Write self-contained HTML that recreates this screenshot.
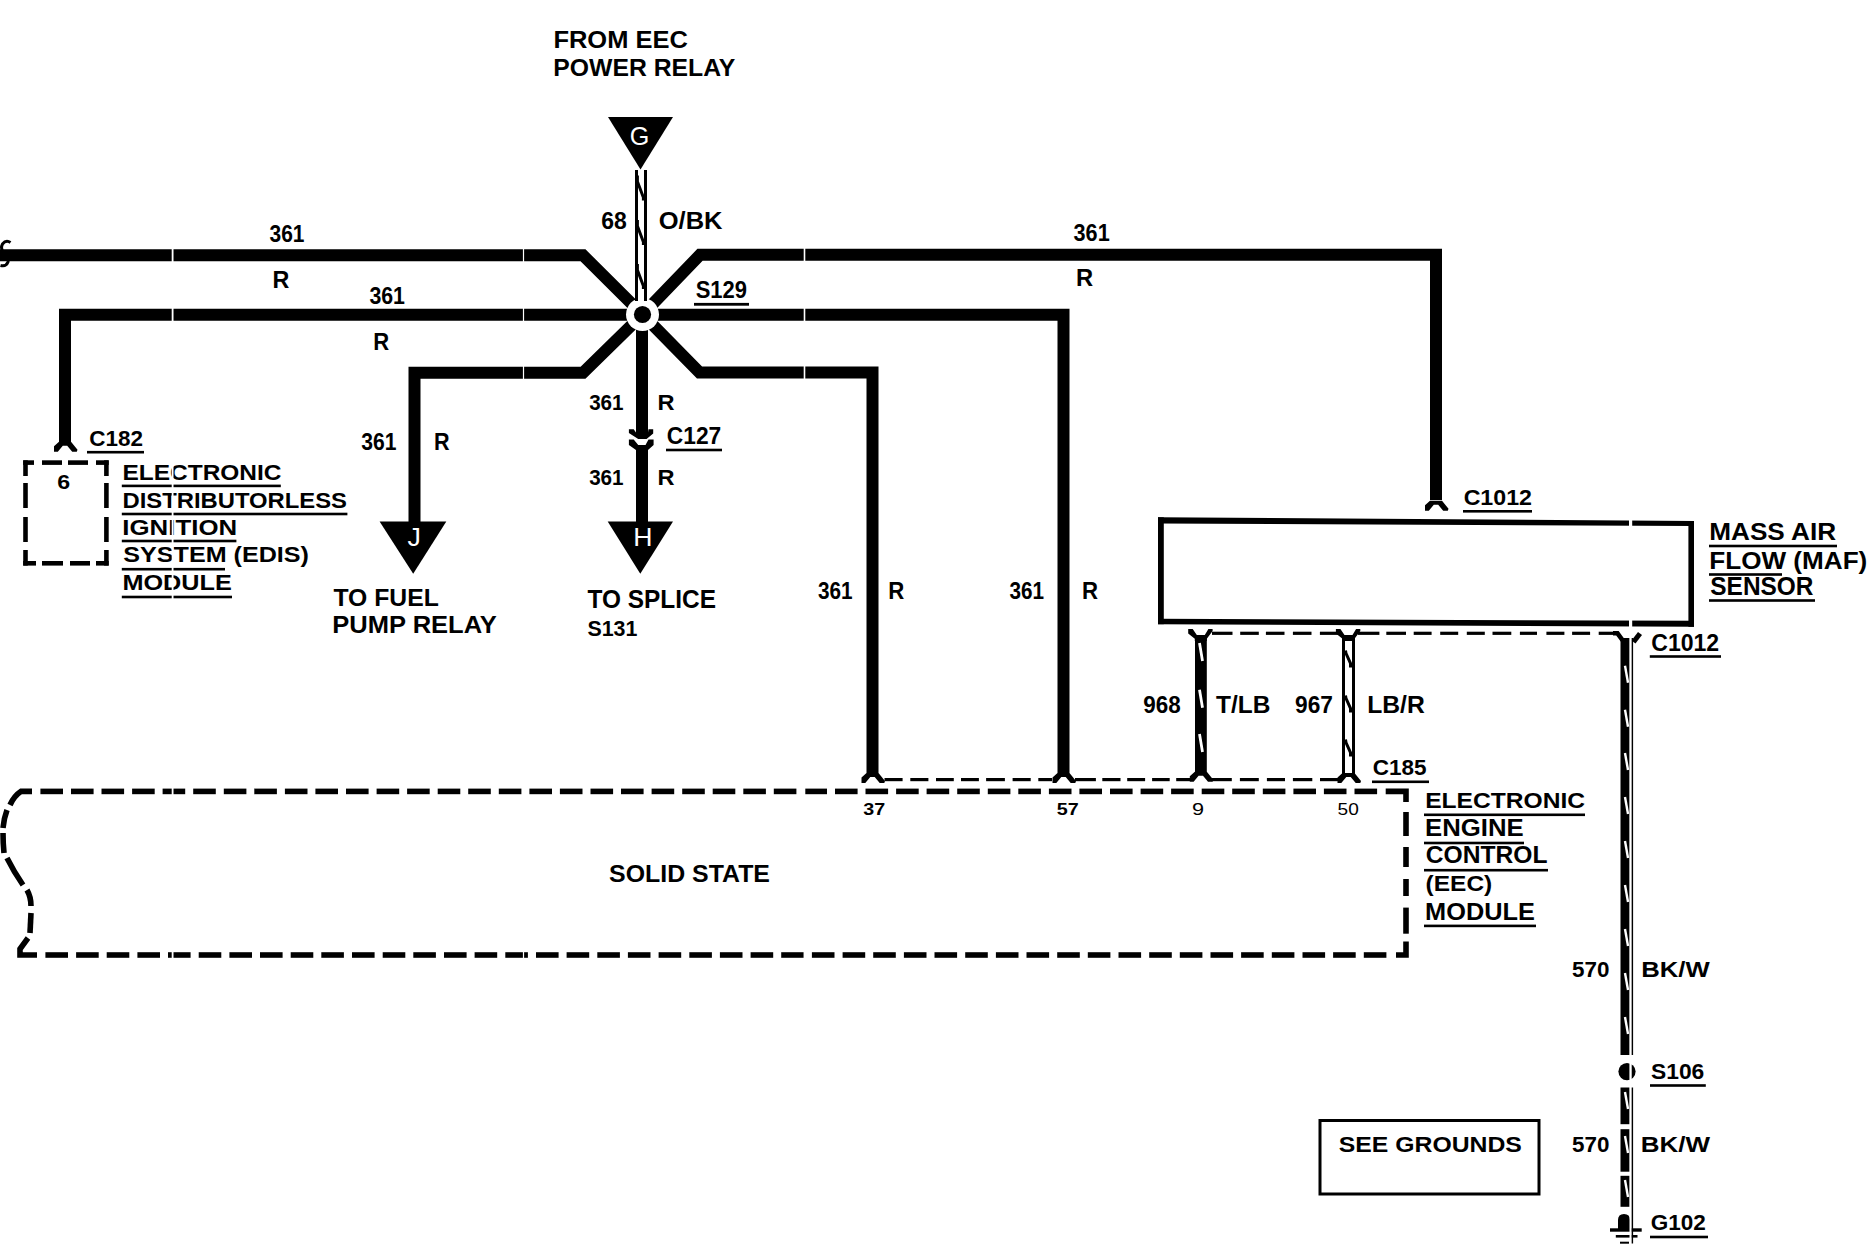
<!DOCTYPE html>
<html><head><meta charset="utf-8"><style>
html,body{margin:0;padding:0;background:#fff;}
svg{display:block;}
text{font-family:"Liberation Sans",sans-serif;}
</style></head><body>
<svg width="1868" height="1248" viewBox="0 0 1868 1248">
<rect width="1868" height="1248" fill="#fff"/>
<path d="M0,255.3 L583,255.3 L642.5,314.5" fill="none" stroke="#000" stroke-width="12" stroke-linejoin="miter" />
<path d="M642.5,314.5 L700,254.8 L1436,254.8 L1436,500" fill="none" stroke="#000" stroke-width="12" stroke-linejoin="miter" />
<path d="M65,443 L65,314.8 L642.5,314.8" fill="none" stroke="#000" stroke-width="12" stroke-linejoin="miter" />
<path d="M642.5,314.8 L1063.5,314.8 L1063.5,773" fill="none" stroke="#000" stroke-width="12" stroke-linejoin="miter" />
<path d="M642.5,314.5 L583,372.7 L414.5,372.7 L414.5,524" fill="none" stroke="#000" stroke-width="12" stroke-linejoin="miter" />
<path d="M642.5,314.5 L699.5,372.5 L872.5,372.5 L872.5,773" fill="none" stroke="#000" stroke-width="12" stroke-linejoin="miter" />
<path d="M642,314.5 L642,432" fill="none" stroke="#000" stroke-width="12" stroke-linejoin="miter" />
<path d="M642,455 L642,524" fill="none" stroke="#000" stroke-width="12" stroke-linejoin="miter" />
<circle cx="642.5" cy="314.5" r="16.5" fill="#fff"/>
<circle cx="642.5" cy="314.5" r="8.6" fill="#000"/>
<rect x="635.0" y="170.0" width="3.0" height="131.0" fill="#000"/>
<rect x="644.0" y="170.0" width="3.0" height="131.0" fill="#000"/>
<path d="M637.4,175.5 L637.4,181.5 L643.4,197.5 L643.4,200.5" fill="none" stroke="#000" stroke-width="3" stroke-linejoin="miter" />
<path d="M637.4,220 L637.4,226 L643.4,242 L643.4,245" fill="none" stroke="#000" stroke-width="3" stroke-linejoin="miter" />
<path d="M637.4,264 L637.4,270 L643.4,286 L643.4,289" fill="none" stroke="#000" stroke-width="3" stroke-linejoin="miter" />
<polygon points="608.0,117.0 673.0,117.0 640.5,169.5" fill="#000"/>
<polygon points="379.6,521.4 446.3,521.4 413.2,573.8" fill="#000"/>
<polygon points="607.7,521.4 673.0,521.4 640.3,573.8" fill="#000"/>
<text x="629.74" y="144.60" font-size="26.60" font-weight="normal" fill="#fff" textLength="19.54" lengthAdjust="spacingAndGlyphs">G</text>
<text x="407.58" y="546.00" font-size="26.45" font-weight="normal" fill="#fff" textLength="13.41" lengthAdjust="spacingAndGlyphs">J</text>
<text x="633.31" y="545.50" font-size="25.58" font-weight="normal" fill="#fff" textLength="19.26" lengthAdjust="spacingAndGlyphs">H</text>
<polygon points="59.0,441.8 54.0,446.3 54.0,451.8 57.8,451.8 62.8,445.8 67.2,445.8 72.2,451.8 76.8,451.8 77.5,449.8 71.0,441.8" fill="#000"/>
<polygon points="1430.0,500.8 1425.0,505.3 1425.0,510.8 1428.8,510.8 1433.8,504.8 1438.2,504.8 1443.2,510.8 1447.8,510.8 1448.5,508.8 1442.0,500.8" fill="#000"/>
<polygon points="866.5,773.0 861.5,777.5 861.5,783.0 865.3,783.0 870.3,777.0 874.7,777.0 879.7,783.0 884.3,783.0 885.0,781.0 878.5,773.0" fill="#000"/>
<polygon points="1057.5,773.0 1052.5,777.5 1052.5,783.0 1056.3,783.0 1061.3,777.0 1065.7,777.0 1070.7,783.0 1075.3,783.0 1076.0,781.0 1069.5,773.0" fill="#000"/>
<polygon points="636.0,420.0 636.0,432.5 633.7,429.3 628.9,429.3 628.9,433.0 638.2,439.0 646.6,439.0 653.2,433.5 653.2,429.3 648.5,429.3 648.0,432.5 648.0,420.0" fill="#000"/>
<polygon points="628.9,439.6 633.7,439.6 638.2,445.0 645.5,445.0 648.5,439.6 653.6,439.6 653.6,445.0 648.0,450.0 648.0,460.0 636.0,460.0 636.0,450.0 628.9,445.0" fill="#000"/>
<text x="553.40" y="48.00" font-size="23.84" font-weight="bold" fill="#000" stroke="#000" stroke-width="0.0" textLength="134.50" lengthAdjust="spacingAndGlyphs">FROM EEC</text>
<text x="553.37" y="75.80" font-size="24.71" font-weight="bold" fill="#000" stroke="#000" stroke-width="0.0" textLength="181.93" lengthAdjust="spacingAndGlyphs">POWER RELAY</text>
<text x="601.16" y="228.50" font-size="23.84" font-weight="bold" fill="#000" stroke="#000" stroke-width="0.0" textLength="25.55" lengthAdjust="spacingAndGlyphs">68</text>
<text x="658.75" y="228.70" font-size="24.56" font-weight="bold" fill="#000" stroke="#000" stroke-width="0.0" textLength="63.78" lengthAdjust="spacingAndGlyphs">O/BK</text>
<text x="269.52" y="242.00" font-size="23.98" font-weight="bold" fill="#000" stroke="#000" stroke-width="0.0" textLength="34.96" lengthAdjust="spacingAndGlyphs">361</text>
<text x="272.44" y="288.00" font-size="23.69" font-weight="bold" fill="#000" stroke="#000" stroke-width="0.0" textLength="16.84" lengthAdjust="spacingAndGlyphs">R</text>
<text x="369.41" y="303.90" font-size="24.13" font-weight="bold" fill="#000" stroke="#000" stroke-width="0.0" textLength="35.58" lengthAdjust="spacingAndGlyphs">361</text>
<text x="373.32" y="349.80" font-size="23.55" font-weight="bold" fill="#000" stroke="#000" stroke-width="0.0" textLength="15.93" lengthAdjust="spacingAndGlyphs">R</text>
<text x="695.67" y="298.10" font-size="23.98" font-weight="bold" fill="#000" stroke="#000" stroke-width="0.0" textLength="51.35" lengthAdjust="spacingAndGlyphs">S129</text>
<rect x="694.0" y="302.9" width="55.0" height="2.8"/>
<text x="1073.60" y="240.80" font-size="23.69" font-weight="bold" fill="#000" stroke="#000" stroke-width="0.0" textLength="36.10" lengthAdjust="spacingAndGlyphs">361</text>
<text x="1076.11" y="285.90" font-size="23.40" font-weight="bold" fill="#000" stroke="#000" stroke-width="0.0" textLength="17.18" lengthAdjust="spacingAndGlyphs">R</text>
<text x="361.22" y="449.90" font-size="23.84" font-weight="bold" fill="#000" stroke="#000" stroke-width="0.0" textLength="35.17" lengthAdjust="spacingAndGlyphs">361</text>
<text x="434.06" y="449.90" font-size="23.84" font-weight="bold" fill="#000" stroke="#000" stroke-width="0.0" textLength="15.59" lengthAdjust="spacingAndGlyphs">R</text>
<text x="589.13" y="409.60" font-size="22.24" font-weight="bold" fill="#000" stroke="#000" stroke-width="0.0" textLength="34.45" lengthAdjust="spacingAndGlyphs">361</text>
<text x="657.42" y="409.60" font-size="22.24" font-weight="bold" fill="#000" stroke="#000" stroke-width="0.0" textLength="17.07" lengthAdjust="spacingAndGlyphs">R</text>
<text x="589.13" y="485.40" font-size="22.24" font-weight="bold" fill="#000" stroke="#000" stroke-width="0.0" textLength="34.45" lengthAdjust="spacingAndGlyphs">361</text>
<text x="657.42" y="485.40" font-size="22.24" font-weight="bold" fill="#000" stroke="#000" stroke-width="0.0" textLength="17.07" lengthAdjust="spacingAndGlyphs">R</text>
<text x="666.87" y="444.10" font-size="24.27" font-weight="bold" fill="#000" stroke="#000" stroke-width="0.0" textLength="54.43" lengthAdjust="spacingAndGlyphs">C127</text>
<rect x="666.0" y="448.7" width="56.0" height="2.6"/>
<text x="333.42" y="606.00" font-size="23.26" font-weight="bold" fill="#000" stroke="#000" stroke-width="0.0" textLength="105.33" lengthAdjust="spacingAndGlyphs">TO FUEL</text>
<text x="332.32" y="633.20" font-size="23.11" font-weight="bold" fill="#000" stroke="#000" stroke-width="0.0" textLength="164.48" lengthAdjust="spacingAndGlyphs">PUMP RELAY</text>
<text x="587.53" y="608.40" font-size="24.85" font-weight="bold" fill="#000" stroke="#000" stroke-width="0.0" textLength="128.42" lengthAdjust="spacingAndGlyphs">TO SPLICE</text>
<text x="587.38" y="635.70" font-size="22.97" font-weight="bold" fill="#000" stroke="#000" stroke-width="0.0" textLength="50.01" lengthAdjust="spacingAndGlyphs">S131</text>
<text x="89.18" y="445.60" font-size="22.82" font-weight="bold" fill="#000" stroke="#000" stroke-width="0.0" textLength="53.72" lengthAdjust="spacingAndGlyphs">C182</text>
<rect x="87.0" y="450.9" width="57.0" height="2.6"/>
<text x="57.15" y="488.60" font-size="20.78" font-weight="bold" fill="#000" stroke="#000" stroke-width="0.0" textLength="12.89" lengthAdjust="spacingAndGlyphs">6</text>
<text x="122.46" y="479.60" font-size="21.95" font-weight="bold" fill="#000" stroke="#000" stroke-width="0.0" textLength="159.01" lengthAdjust="spacingAndGlyphs">ELECTRONIC</text>
<rect x="121.8" y="484.6" width="159.0" height="2.6"/>
<text x="122.51" y="507.80" font-size="22.82" font-weight="bold" fill="#000" stroke="#000" stroke-width="0.0" textLength="224.42" lengthAdjust="spacingAndGlyphs">DISTRIBUTORLESS</text>
<rect x="121.8" y="512.7" width="225.6" height="2.6"/>
<text x="122.37" y="534.70" font-size="22.82" font-weight="bold" fill="#000" stroke="#000" stroke-width="0.0" textLength="114.77" lengthAdjust="spacingAndGlyphs">IGNITION</text>
<rect x="121.8" y="539.7" width="114.6" height="2.6"/>
<text x="123.38" y="561.70" font-size="21.95" font-weight="bold" fill="#000" stroke="#000" stroke-width="0.0" textLength="185.57" lengthAdjust="spacingAndGlyphs">SYSTEM (EDIS)</text>
<rect x="121.8" y="567.9" width="103.2" height="2.6"/>
<text x="122.41" y="589.70" font-size="22.38" font-weight="bold" fill="#000" stroke="#000" stroke-width="0.0" textLength="109.37" lengthAdjust="spacingAndGlyphs">MODULE</text>
<rect x="121.8" y="595.7" width="110.2" height="2.6"/>
<text x="817.92" y="599.40" font-size="23.84" font-weight="bold" fill="#000" stroke="#000" stroke-width="0.0" textLength="34.65" lengthAdjust="spacingAndGlyphs">361</text>
<text x="888.31" y="599.40" font-size="23.84" font-weight="bold" fill="#000" stroke="#000" stroke-width="0.0" textLength="16.04" lengthAdjust="spacingAndGlyphs">R</text>
<text x="1009.42" y="599.40" font-size="23.84" font-weight="bold" fill="#000" stroke="#000" stroke-width="0.0" textLength="34.55" lengthAdjust="spacingAndGlyphs">361</text>
<text x="1081.91" y="599.40" font-size="23.84" font-weight="bold" fill="#000" stroke="#000" stroke-width="0.0" textLength="16.04" lengthAdjust="spacingAndGlyphs">R</text>
<text x="863.35" y="815.30" font-size="16.86" font-weight="bold" fill="#000" stroke="#000" stroke-width="0.0" textLength="21.92" lengthAdjust="spacingAndGlyphs">37</text>
<text x="1056.89" y="815.30" font-size="16.86" font-weight="bold" fill="#000" stroke="#000" stroke-width="0.0" textLength="21.98" lengthAdjust="spacingAndGlyphs">57</text>
<text x="1191.99" y="815.30" font-size="16.28" font-weight="normal" fill="#000" textLength="12.04" lengthAdjust="spacingAndGlyphs">9</text>
<text x="1337.54" y="815.30" font-size="16.28" font-weight="normal" fill="#000" textLength="21.21" lengthAdjust="spacingAndGlyphs">50</text>
<text x="1463.65" y="504.80" font-size="22.24" font-weight="bold" fill="#000" stroke="#000" stroke-width="0.0" textLength="68.28" lengthAdjust="spacingAndGlyphs">C1012</text>
<rect x="1463.0" y="510.0" width="69.0" height="2.6"/>
<text x="1709.26" y="540.40" font-size="23.98" font-weight="bold" fill="#000" stroke="#000" stroke-width="0.0" textLength="126.87" lengthAdjust="spacingAndGlyphs">MASS AIR</text>
<rect x="1709.0" y="544.7" width="128.0" height="2.6"/>
<text x="1709.25" y="568.90" font-size="24.13" font-weight="bold" fill="#000" stroke="#000" stroke-width="0.0" textLength="158.05" lengthAdjust="spacingAndGlyphs">FLOW (MAF)</text>
<rect x="1709.0" y="573.2" width="73.0" height="2.6"/>
<text x="1710.30" y="595.00" font-size="25.15" font-weight="bold" fill="#000" stroke="#000" stroke-width="0.0" textLength="103.21" lengthAdjust="spacingAndGlyphs">SENSOR</text>
<rect x="1709.0" y="599.2" width="106.0" height="2.6"/>
<text x="1143.22" y="713.00" font-size="23.55" font-weight="bold" fill="#000" stroke="#000" stroke-width="0.0" textLength="37.47" lengthAdjust="spacingAndGlyphs">968</text>
<text x="1216.03" y="713.00" font-size="23.55" font-weight="bold" fill="#000" stroke="#000" stroke-width="0.0" textLength="54.39" lengthAdjust="spacingAndGlyphs">T/LB</text>
<text x="1295.01" y="713.00" font-size="23.55" font-weight="bold" fill="#000" stroke="#000" stroke-width="0.0" textLength="37.89" lengthAdjust="spacingAndGlyphs">967</text>
<text x="1367.15" y="713.00" font-size="23.55" font-weight="bold" fill="#000" stroke="#000" stroke-width="0.0" textLength="57.56" lengthAdjust="spacingAndGlyphs">LB/R</text>
<text x="1372.78" y="774.90" font-size="21.80" font-weight="bold" fill="#000" stroke="#000" stroke-width="0.0" textLength="53.75" lengthAdjust="spacingAndGlyphs">C185</text>
<rect x="1372.0" y="780.5" width="57.0" height="2.6"/>
<text x="1651.26" y="650.50" font-size="24.13" font-weight="bold" fill="#000" stroke="#000" stroke-width="0.0" textLength="67.87" lengthAdjust="spacingAndGlyphs">C1012</text>
<rect x="1649.8" y="655.2" width="71.2" height="2.6"/>
<text x="609.10" y="881.90" font-size="24.13" font-weight="bold" fill="#000" stroke="#000" stroke-width="0.0" textLength="160.85" lengthAdjust="spacingAndGlyphs">SOLID STATE</text>
<text x="1425.15" y="808.00" font-size="21.22" font-weight="bold" fill="#000" stroke="#000" stroke-width="0.0" textLength="159.92" lengthAdjust="spacingAndGlyphs">ELECTRONIC</text>
<rect x="1424.0" y="813.5" width="161.0" height="2.6"/>
<text x="1425.08" y="836.00" font-size="23.26" font-weight="bold" fill="#000" stroke="#000" stroke-width="0.0" textLength="98.63" lengthAdjust="spacingAndGlyphs">ENGINE</text>
<rect x="1424.0" y="841.7" width="100.0" height="2.6"/>
<text x="1425.79" y="863.40" font-size="23.40" font-weight="bold" fill="#000" stroke="#000" stroke-width="0.0" textLength="121.67" lengthAdjust="spacingAndGlyphs">CONTROL</text>
<rect x="1424.0" y="868.9" width="124.0" height="2.6"/>
<text x="1425.58" y="891.00" font-size="22.24" font-weight="bold" fill="#000" stroke="#000" stroke-width="0.0" textLength="66.64" lengthAdjust="spacingAndGlyphs">(EEC)</text>
<text x="1425.11" y="919.90" font-size="23.26" font-weight="bold" fill="#000" stroke="#000" stroke-width="0.0" textLength="109.68" lengthAdjust="spacingAndGlyphs">MODULE</text>
<rect x="1424.0" y="924.6" width="112.0" height="2.6"/>
<text x="1572.01" y="977.00" font-size="22.82" font-weight="bold" fill="#000" stroke="#000" stroke-width="0.0" textLength="37.41" lengthAdjust="spacingAndGlyphs">570</text>
<text x="1641.28" y="977.00" font-size="22.82" font-weight="bold" fill="#000" stroke="#000" stroke-width="0.0" textLength="68.44" lengthAdjust="spacingAndGlyphs">BK/W</text>
<text x="1572.01" y="1152.20" font-size="22.82" font-weight="bold" fill="#000" stroke="#000" stroke-width="0.0" textLength="37.41" lengthAdjust="spacingAndGlyphs">570</text>
<text x="1640.76" y="1152.20" font-size="22.82" font-weight="bold" fill="#000" stroke="#000" stroke-width="0.0" textLength="69.26" lengthAdjust="spacingAndGlyphs">BK/W</text>
<text x="1651.04" y="1079.20" font-size="21.37" font-weight="bold" fill="#000" stroke="#000" stroke-width="0.0" textLength="53.28" lengthAdjust="spacingAndGlyphs">S106</text>
<rect x="1650.0" y="1084.2" width="55.8" height="2.6"/>
<text x="1650.78" y="1230.00" font-size="21.37" font-weight="bold" fill="#000" stroke="#000" stroke-width="0.0" textLength="55.13" lengthAdjust="spacingAndGlyphs">G102</text>
<rect x="1650.0" y="1235.7" width="58.0" height="2.6"/>
<text x="1338.79" y="1152.20" font-size="22.82" font-weight="bold" fill="#000" stroke="#000" stroke-width="0.0" textLength="183.08" lengthAdjust="spacingAndGlyphs">SEE GROUNDS</text>
<polygon points="1158.0,517.3 1694.0,521.0 1694.0,526.0 1158.0,523.6" fill="#000"/>
<polygon points="1158.0,618.8 1694.0,620.8 1694.0,626.8 1158.0,624.2" fill="#000"/>
<polygon points="1158.0,517.3 1163.8,517.3 1163.8,624.2 1158.0,624.2" fill="#000"/>
<polygon points="1688.4,521.0 1694.0,521.0 1694.0,626.8 1688.4,626.8" fill="#000"/>
<rect x="1629.0" y="514.0" width="3.2" height="16.0" fill="#fff"/>
<rect x="1629.0" y="615.0" width="3.2" height="16.0" fill="#fff"/>
<rect x="1320" y="1120.5" width="219" height="73.5" fill="none" stroke="#000" stroke-width="3"/>
<line x1="1212.0" y1="633.3" x2="1232.5" y2="633.3" stroke="#000" stroke-width="3.2" stroke-linecap="butt"/>
<line x1="1240.2" y1="633.3" x2="1258.8" y2="633.3" stroke="#000" stroke-width="3.2" stroke-linecap="butt"/>
<line x1="1265.9" y1="633.3" x2="1284.5" y2="633.3" stroke="#000" stroke-width="3.2" stroke-linecap="butt"/>
<line x1="1292.9" y1="633.3" x2="1311.5" y2="633.3" stroke="#000" stroke-width="3.2" stroke-linecap="butt"/>
<line x1="1319.9" y1="633.3" x2="1339.0" y2="633.3" stroke="#000" stroke-width="3.2" stroke-linecap="butt"/>
<line x1="1358.0" y1="633.3" x2="1379.4" y2="633.3" stroke="#000" stroke-width="3.2" stroke-linecap="butt"/>
<line x1="1386.3" y1="633.3" x2="1406.0" y2="633.3" stroke="#000" stroke-width="3.2" stroke-linecap="butt"/>
<line x1="1413.7" y1="633.3" x2="1431.6" y2="633.3" stroke="#000" stroke-width="3.2" stroke-linecap="butt"/>
<line x1="1440.2" y1="633.3" x2="1458.2" y2="633.3" stroke="#000" stroke-width="3.2" stroke-linecap="butt"/>
<line x1="1466.8" y1="633.3" x2="1484.8" y2="633.3" stroke="#000" stroke-width="3.2" stroke-linecap="butt"/>
<line x1="1492.5" y1="633.3" x2="1511.3" y2="633.3" stroke="#000" stroke-width="3.2" stroke-linecap="butt"/>
<line x1="1519.9" y1="633.3" x2="1537.0" y2="633.3" stroke="#000" stroke-width="3.2" stroke-linecap="butt"/>
<line x1="1546.4" y1="633.3" x2="1564.4" y2="633.3" stroke="#000" stroke-width="3.2" stroke-linecap="butt"/>
<line x1="1572.1" y1="633.3" x2="1590.1" y2="633.3" stroke="#000" stroke-width="3.2" stroke-linecap="butt"/>
<line x1="1598.7" y1="633.3" x2="1617.0" y2="633.3" stroke="#000" stroke-width="3.2" stroke-linecap="butt"/>
<line x1="884.5" y1="779.6" x2="902.6" y2="779.6" stroke="#000" stroke-width="3.2" stroke-linecap="butt"/>
<line x1="910.3" y1="779.6" x2="928.4" y2="779.6" stroke="#000" stroke-width="3.2" stroke-linecap="butt"/>
<line x1="936.0" y1="779.6" x2="953.8" y2="779.6" stroke="#000" stroke-width="3.2" stroke-linecap="butt"/>
<line x1="961.0" y1="779.6" x2="978.9" y2="779.6" stroke="#000" stroke-width="3.2" stroke-linecap="butt"/>
<line x1="986.1" y1="779.6" x2="1004.9" y2="779.6" stroke="#000" stroke-width="3.2" stroke-linecap="butt"/>
<line x1="1012.6" y1="779.6" x2="1030.7" y2="779.6" stroke="#000" stroke-width="3.2" stroke-linecap="butt"/>
<line x1="1038.3" y1="779.6" x2="1052.0" y2="779.6" stroke="#000" stroke-width="3.2" stroke-linecap="butt"/>
<line x1="1075.0" y1="779.6" x2="1095.9" y2="779.6" stroke="#000" stroke-width="3.2" stroke-linecap="butt"/>
<line x1="1102.3" y1="779.6" x2="1120.5" y2="779.6" stroke="#000" stroke-width="3.2" stroke-linecap="butt"/>
<line x1="1127.2" y1="779.6" x2="1145.1" y2="779.6" stroke="#000" stroke-width="3.2" stroke-linecap="butt"/>
<line x1="1152.1" y1="779.6" x2="1169.7" y2="779.6" stroke="#000" stroke-width="3.2" stroke-linecap="butt"/>
<line x1="1176.2" y1="779.6" x2="1190.0" y2="779.6" stroke="#000" stroke-width="3.2" stroke-linecap="butt"/>
<line x1="1211.5" y1="779.6" x2="1231.8" y2="779.6" stroke="#000" stroke-width="3.2" stroke-linecap="butt"/>
<line x1="1239.9" y1="779.6" x2="1258.8" y2="779.6" stroke="#000" stroke-width="3.2" stroke-linecap="butt"/>
<line x1="1266.9" y1="779.6" x2="1285.0" y2="779.6" stroke="#000" stroke-width="3.2" stroke-linecap="butt"/>
<line x1="1292.9" y1="779.6" x2="1312.3" y2="779.6" stroke="#000" stroke-width="3.2" stroke-linecap="butt"/>
<line x1="1320.0" y1="779.6" x2="1339.0" y2="779.6" stroke="#000" stroke-width="3.2" stroke-linecap="butt"/>
<polygon points="1188.2,629.1 1192.7,629.1 1196.8,634.9 1204.8,634.9 1208.4,629.1 1212.6,629.1 1212.6,631.1 1206.8,638.8 1206.8,641.1 1194.8,641.1 1194.8,638.8 1188.2,633.6" fill="#000"/>
<polygon points="1335.9,629.1 1340.4,629.1 1344.5,634.9 1352.5,634.9 1356.1,629.1 1360.3,629.1 1360.3,631.1 1354.5,638.8 1354.5,641.1 1342.5,641.1 1342.5,638.8 1335.9,633.6" fill="#000"/>
<path d="M1613,633.3 L1617.5,633.3 L1623.5,641.5" fill="none" stroke="#000" stroke-width="4.6" stroke-linejoin="miter"/>
<path d="M1640,633.5 L1633.5,642" fill="none" stroke="#000" stroke-width="5"/>
<polygon points="1194.8,771.8 1189.8,776.3 1189.8,781.8 1193.6,781.8 1198.6,775.8 1203.0,775.8 1208.0,781.8 1212.6,781.8 1213.3,779.8 1206.8,771.8" fill="#000"/>
<polygon points="1342.5,773.0 1337.5,777.5 1337.5,783.0 1341.3,783.0 1346.3,777.0 1350.7,777.0 1355.7,783.0 1360.3,783.0 1361.0,781.0 1354.5,773.0" fill="#000"/>
<rect x="1195.0" y="636.0" width="11.8" height="139.0" fill="#000"/>
<line x1="1199.5" y1="643.0" x2="1202.5" y2="661.0" stroke="#fff" stroke-width="2.8" stroke-linecap="butt"/>
<line x1="1199.5" y1="689.8" x2="1202.5" y2="707.8" stroke="#fff" stroke-width="2.8" stroke-linecap="butt"/>
<line x1="1199.5" y1="734.0" x2="1202.5" y2="752.0" stroke="#fff" stroke-width="2.8" stroke-linecap="butt"/>
<rect x="1342.0" y="636.0" width="3.0" height="139.0" fill="#000"/>
<rect x="1352.0" y="636.0" width="3.0" height="139.0" fill="#000"/>
<path d="M1345.5,650.4 L1346,653.4 L1350.5,663.4 L1350.5,667.4" fill="none" stroke="#000" stroke-width="3" stroke-linejoin="miter" />
<path d="M1345.5,695.4 L1346,698.4 L1350.5,708.4 L1350.5,712.4" fill="none" stroke="#000" stroke-width="3" stroke-linejoin="miter" />
<path d="M1345.5,739.6 L1346,742.6 L1350.5,752.6 L1350.5,756.6" fill="none" stroke="#000" stroke-width="3" stroke-linejoin="miter" />
<rect x="1620.5" y="638.0" width="9.2" height="417.0" fill="#000"/>
<rect x="1631.3" y="638.0" width="1.8" height="417.0" fill="#000"/>
<line x1="1625.0" y1="665.7" x2="1628.0" y2="682.7" stroke="#fff" stroke-width="2.4" stroke-linecap="butt"/>
<line x1="1625.0" y1="709.8" x2="1628.0" y2="726.8" stroke="#fff" stroke-width="2.4" stroke-linecap="butt"/>
<line x1="1625.0" y1="753.0" x2="1628.0" y2="770.0" stroke="#fff" stroke-width="2.4" stroke-linecap="butt"/>
<line x1="1625.0" y1="797.0" x2="1628.0" y2="814.0" stroke="#fff" stroke-width="2.4" stroke-linecap="butt"/>
<line x1="1625.0" y1="841.0" x2="1628.0" y2="858.0" stroke="#fff" stroke-width="2.4" stroke-linecap="butt"/>
<line x1="1625.0" y1="885.0" x2="1628.0" y2="902.0" stroke="#fff" stroke-width="2.4" stroke-linecap="butt"/>
<line x1="1625.0" y1="929.0" x2="1628.0" y2="946.0" stroke="#fff" stroke-width="2.4" stroke-linecap="butt"/>
<line x1="1625.0" y1="973.0" x2="1628.0" y2="990.0" stroke="#fff" stroke-width="2.4" stroke-linecap="butt"/>
<line x1="1625.0" y1="1017.0" x2="1628.0" y2="1034.0" stroke="#fff" stroke-width="2.4" stroke-linecap="butt"/>
<circle cx="1627" cy="1071.6" r="8.6" fill="#000"/>
<rect x="1629.8" y="1060.0" width="1.6" height="23.0" fill="#fff"/>
<rect x="1620.5" y="1087.5" width="9.2" height="36.7" fill="#000"/>
<rect x="1620.5" y="1129.2" width="9.2" height="42.5" fill="#000"/>
<rect x="1620.5" y="1175.8" width="9.2" height="31.0" fill="#000"/>
<rect x="1631.3" y="1087.5" width="1.8" height="156.0" fill="#000"/>
<line x1="1625.0" y1="1092.0" x2="1628.0" y2="1109.0" stroke="#fff" stroke-width="2.4" stroke-linecap="butt"/>
<line x1="1625.0" y1="1136.0" x2="1628.0" y2="1153.0" stroke="#fff" stroke-width="2.4" stroke-linecap="butt"/>
<line x1="1625.0" y1="1180.0" x2="1628.0" y2="1197.0" stroke="#fff" stroke-width="2.4" stroke-linecap="butt"/>
<path d="M1618,1229 L1618,1220 Q1618,1214 1624,1214 Q1630,1214 1630,1220 L1630,1229 Z" fill="#000"/>
<rect x="1610.0" y="1228.3" width="31.7" height="3.4" fill="#000"/>
<rect x="1615.8" y="1235.0" width="21.7" height="2.6" fill="#000"/>
<rect x="1620.0" y="1241.7" width="9.0" height="2.0" fill="#000"/>
<line x1="23.2" y1="462.6" x2="34.0" y2="462.6" stroke="#000" stroke-width="4.6" stroke-linecap="butt"/>
<line x1="42.0" y1="462.6" x2="62.0" y2="462.6" stroke="#000" stroke-width="4.6" stroke-linecap="butt"/>
<line x1="68.0" y1="462.6" x2="88.0" y2="462.6" stroke="#000" stroke-width="4.6" stroke-linecap="butt"/>
<line x1="96.0" y1="462.6" x2="108.7" y2="462.6" stroke="#000" stroke-width="4.6" stroke-linecap="butt"/>
<line x1="23.2" y1="563.3" x2="36.0" y2="563.3" stroke="#000" stroke-width="4.6" stroke-linecap="butt"/>
<line x1="42.0" y1="563.3" x2="63.0" y2="563.3" stroke="#000" stroke-width="4.6" stroke-linecap="butt"/>
<line x1="70.0" y1="563.3" x2="90.0" y2="563.3" stroke="#000" stroke-width="4.6" stroke-linecap="butt"/>
<line x1="96.0" y1="563.3" x2="108.7" y2="563.3" stroke="#000" stroke-width="4.6" stroke-linecap="butt"/>
<line x1="25.5" y1="460.3" x2="25.5" y2="476.0" stroke="#000" stroke-width="4.6" stroke-linecap="butt"/>
<line x1="25.5" y1="483.0" x2="25.5" y2="508.0" stroke="#000" stroke-width="4.6" stroke-linecap="butt"/>
<line x1="25.5" y1="517.0" x2="25.5" y2="542.0" stroke="#000" stroke-width="4.6" stroke-linecap="butt"/>
<line x1="25.5" y1="550.0" x2="25.5" y2="565.6" stroke="#000" stroke-width="4.6" stroke-linecap="butt"/>
<line x1="106.4" y1="460.3" x2="106.4" y2="476.0" stroke="#000" stroke-width="4.6" stroke-linecap="butt"/>
<line x1="106.4" y1="483.0" x2="106.4" y2="508.0" stroke="#000" stroke-width="4.6" stroke-linecap="butt"/>
<line x1="106.4" y1="517.0" x2="106.4" y2="542.0" stroke="#000" stroke-width="4.6" stroke-linecap="butt"/>
<line x1="106.4" y1="550.0" x2="106.4" y2="565.6" stroke="#000" stroke-width="4.6" stroke-linecap="butt"/>
<line x1="40.4" y1="791.4" x2="63.0" y2="791.4" stroke="#000" stroke-width="5.6" stroke-linecap="butt"/>
<line x1="71.0" y1="791.4" x2="93.6" y2="791.4" stroke="#000" stroke-width="5.6" stroke-linecap="butt"/>
<line x1="101.5" y1="791.4" x2="124.1" y2="791.4" stroke="#000" stroke-width="5.6" stroke-linecap="butt"/>
<line x1="132.1" y1="791.4" x2="154.7" y2="791.4" stroke="#000" stroke-width="5.6" stroke-linecap="butt"/>
<line x1="162.6" y1="791.4" x2="185.2" y2="791.4" stroke="#000" stroke-width="5.6" stroke-linecap="butt"/>
<line x1="193.2" y1="791.4" x2="215.8" y2="791.4" stroke="#000" stroke-width="5.6" stroke-linecap="butt"/>
<line x1="223.8" y1="791.4" x2="246.4" y2="791.4" stroke="#000" stroke-width="5.6" stroke-linecap="butt"/>
<line x1="254.3" y1="791.4" x2="276.9" y2="791.4" stroke="#000" stroke-width="5.6" stroke-linecap="butt"/>
<line x1="284.9" y1="791.4" x2="307.5" y2="791.4" stroke="#000" stroke-width="5.6" stroke-linecap="butt"/>
<line x1="315.4" y1="791.4" x2="338.0" y2="791.4" stroke="#000" stroke-width="5.6" stroke-linecap="butt"/>
<line x1="346.0" y1="791.4" x2="368.6" y2="791.4" stroke="#000" stroke-width="5.6" stroke-linecap="butt"/>
<line x1="376.6" y1="791.4" x2="399.2" y2="791.4" stroke="#000" stroke-width="5.6" stroke-linecap="butt"/>
<line x1="407.1" y1="791.4" x2="429.7" y2="791.4" stroke="#000" stroke-width="5.6" stroke-linecap="butt"/>
<line x1="437.7" y1="791.4" x2="460.3" y2="791.4" stroke="#000" stroke-width="5.6" stroke-linecap="butt"/>
<line x1="468.2" y1="791.4" x2="490.8" y2="791.4" stroke="#000" stroke-width="5.6" stroke-linecap="butt"/>
<line x1="498.8" y1="791.4" x2="521.4" y2="791.4" stroke="#000" stroke-width="5.6" stroke-linecap="butt"/>
<line x1="529.4" y1="791.4" x2="552.0" y2="791.4" stroke="#000" stroke-width="5.6" stroke-linecap="butt"/>
<line x1="559.9" y1="791.4" x2="582.5" y2="791.4" stroke="#000" stroke-width="5.6" stroke-linecap="butt"/>
<line x1="590.5" y1="791.4" x2="613.1" y2="791.4" stroke="#000" stroke-width="5.6" stroke-linecap="butt"/>
<line x1="621.0" y1="791.4" x2="643.6" y2="791.4" stroke="#000" stroke-width="5.6" stroke-linecap="butt"/>
<line x1="651.6" y1="791.4" x2="674.2" y2="791.4" stroke="#000" stroke-width="5.6" stroke-linecap="butt"/>
<line x1="682.2" y1="791.4" x2="704.8" y2="791.4" stroke="#000" stroke-width="5.6" stroke-linecap="butt"/>
<line x1="712.7" y1="791.4" x2="735.3" y2="791.4" stroke="#000" stroke-width="5.6" stroke-linecap="butt"/>
<line x1="743.3" y1="791.4" x2="765.9" y2="791.4" stroke="#000" stroke-width="5.6" stroke-linecap="butt"/>
<line x1="773.8" y1="791.4" x2="796.4" y2="791.4" stroke="#000" stroke-width="5.6" stroke-linecap="butt"/>
<line x1="804.4" y1="791.4" x2="827.0" y2="791.4" stroke="#000" stroke-width="5.6" stroke-linecap="butt"/>
<line x1="835.0" y1="791.4" x2="857.6" y2="791.4" stroke="#000" stroke-width="5.6" stroke-linecap="butt"/>
<line x1="865.5" y1="791.4" x2="888.1" y2="791.4" stroke="#000" stroke-width="5.6" stroke-linecap="butt"/>
<line x1="896.1" y1="791.4" x2="918.7" y2="791.4" stroke="#000" stroke-width="5.6" stroke-linecap="butt"/>
<line x1="926.6" y1="791.4" x2="949.2" y2="791.4" stroke="#000" stroke-width="5.6" stroke-linecap="butt"/>
<line x1="957.2" y1="791.4" x2="979.8" y2="791.4" stroke="#000" stroke-width="5.6" stroke-linecap="butt"/>
<line x1="987.8" y1="791.4" x2="1010.4" y2="791.4" stroke="#000" stroke-width="5.6" stroke-linecap="butt"/>
<line x1="1018.3" y1="791.4" x2="1040.9" y2="791.4" stroke="#000" stroke-width="5.6" stroke-linecap="butt"/>
<line x1="1048.9" y1="791.4" x2="1071.5" y2="791.4" stroke="#000" stroke-width="5.6" stroke-linecap="butt"/>
<line x1="1079.4" y1="791.4" x2="1102.0" y2="791.4" stroke="#000" stroke-width="5.6" stroke-linecap="butt"/>
<line x1="1110.0" y1="791.4" x2="1132.6" y2="791.4" stroke="#000" stroke-width="5.6" stroke-linecap="butt"/>
<line x1="1140.6" y1="791.4" x2="1163.2" y2="791.4" stroke="#000" stroke-width="5.6" stroke-linecap="butt"/>
<line x1="1171.1" y1="791.4" x2="1193.7" y2="791.4" stroke="#000" stroke-width="5.6" stroke-linecap="butt"/>
<line x1="1201.7" y1="791.4" x2="1224.3" y2="791.4" stroke="#000" stroke-width="5.6" stroke-linecap="butt"/>
<line x1="1232.2" y1="791.4" x2="1254.8" y2="791.4" stroke="#000" stroke-width="5.6" stroke-linecap="butt"/>
<line x1="1262.8" y1="791.4" x2="1285.4" y2="791.4" stroke="#000" stroke-width="5.6" stroke-linecap="butt"/>
<line x1="1293.4" y1="791.4" x2="1316.0" y2="791.4" stroke="#000" stroke-width="5.6" stroke-linecap="butt"/>
<line x1="1323.9" y1="791.4" x2="1346.5" y2="791.4" stroke="#000" stroke-width="5.6" stroke-linecap="butt"/>
<line x1="1354.5" y1="791.4" x2="1377.1" y2="791.4" stroke="#000" stroke-width="5.6" stroke-linecap="butt"/>
<path d="M1385.7,791.4 L1406,791.4 L1406,802" fill="none" stroke="#000" stroke-width="5.6"/>
<line x1="1406.0" y1="812.0" x2="1406.0" y2="836.0" stroke="#000" stroke-width="5.6" stroke-linecap="butt"/>
<line x1="1406.0" y1="847.0" x2="1406.0" y2="867.0" stroke="#000" stroke-width="5.6" stroke-linecap="butt"/>
<line x1="1406.0" y1="879.0" x2="1406.0" y2="896.0" stroke="#000" stroke-width="5.6" stroke-linecap="butt"/>
<line x1="1406.0" y1="907.6" x2="1406.0" y2="933.7" stroke="#000" stroke-width="5.6" stroke-linecap="butt"/>
<path d="M1406,941.5 L1406,955 L1396,955" fill="none" stroke="#000" stroke-width="5.6"/>
<line x1="45.4" y1="955.0" x2="68.0" y2="955.0" stroke="#000" stroke-width="5.6" stroke-linecap="butt"/>
<line x1="76.1" y1="955.0" x2="98.7" y2="955.0" stroke="#000" stroke-width="5.6" stroke-linecap="butt"/>
<line x1="106.7" y1="955.0" x2="129.3" y2="955.0" stroke="#000" stroke-width="5.6" stroke-linecap="butt"/>
<line x1="137.4" y1="955.0" x2="160.0" y2="955.0" stroke="#000" stroke-width="5.6" stroke-linecap="butt"/>
<line x1="168.0" y1="955.0" x2="190.6" y2="955.0" stroke="#000" stroke-width="5.6" stroke-linecap="butt"/>
<line x1="198.7" y1="955.0" x2="221.3" y2="955.0" stroke="#000" stroke-width="5.6" stroke-linecap="butt"/>
<line x1="229.4" y1="955.0" x2="252.0" y2="955.0" stroke="#000" stroke-width="5.6" stroke-linecap="butt"/>
<line x1="260.0" y1="955.0" x2="282.6" y2="955.0" stroke="#000" stroke-width="5.6" stroke-linecap="butt"/>
<line x1="290.7" y1="955.0" x2="313.3" y2="955.0" stroke="#000" stroke-width="5.6" stroke-linecap="butt"/>
<line x1="321.3" y1="955.0" x2="343.9" y2="955.0" stroke="#000" stroke-width="5.6" stroke-linecap="butt"/>
<line x1="352.0" y1="955.0" x2="374.6" y2="955.0" stroke="#000" stroke-width="5.6" stroke-linecap="butt"/>
<line x1="382.7" y1="955.0" x2="405.3" y2="955.0" stroke="#000" stroke-width="5.6" stroke-linecap="butt"/>
<line x1="413.3" y1="955.0" x2="435.9" y2="955.0" stroke="#000" stroke-width="5.6" stroke-linecap="butt"/>
<line x1="444.0" y1="955.0" x2="466.6" y2="955.0" stroke="#000" stroke-width="5.6" stroke-linecap="butt"/>
<line x1="474.6" y1="955.0" x2="497.2" y2="955.0" stroke="#000" stroke-width="5.6" stroke-linecap="butt"/>
<line x1="505.3" y1="955.0" x2="527.9" y2="955.0" stroke="#000" stroke-width="5.6" stroke-linecap="butt"/>
<line x1="536.0" y1="955.0" x2="558.6" y2="955.0" stroke="#000" stroke-width="5.6" stroke-linecap="butt"/>
<line x1="566.6" y1="955.0" x2="589.2" y2="955.0" stroke="#000" stroke-width="5.6" stroke-linecap="butt"/>
<line x1="597.3" y1="955.0" x2="619.9" y2="955.0" stroke="#000" stroke-width="5.6" stroke-linecap="butt"/>
<line x1="627.9" y1="955.0" x2="650.5" y2="955.0" stroke="#000" stroke-width="5.6" stroke-linecap="butt"/>
<line x1="658.6" y1="955.0" x2="681.2" y2="955.0" stroke="#000" stroke-width="5.6" stroke-linecap="butt"/>
<line x1="689.3" y1="955.0" x2="711.9" y2="955.0" stroke="#000" stroke-width="5.6" stroke-linecap="butt"/>
<line x1="719.9" y1="955.0" x2="742.5" y2="955.0" stroke="#000" stroke-width="5.6" stroke-linecap="butt"/>
<line x1="750.6" y1="955.0" x2="773.2" y2="955.0" stroke="#000" stroke-width="5.6" stroke-linecap="butt"/>
<line x1="781.2" y1="955.0" x2="803.8" y2="955.0" stroke="#000" stroke-width="5.6" stroke-linecap="butt"/>
<line x1="811.9" y1="955.0" x2="834.5" y2="955.0" stroke="#000" stroke-width="5.6" stroke-linecap="butt"/>
<line x1="842.6" y1="955.0" x2="865.2" y2="955.0" stroke="#000" stroke-width="5.6" stroke-linecap="butt"/>
<line x1="873.2" y1="955.0" x2="895.8" y2="955.0" stroke="#000" stroke-width="5.6" stroke-linecap="butt"/>
<line x1="903.9" y1="955.0" x2="926.5" y2="955.0" stroke="#000" stroke-width="5.6" stroke-linecap="butt"/>
<line x1="934.5" y1="955.0" x2="957.1" y2="955.0" stroke="#000" stroke-width="5.6" stroke-linecap="butt"/>
<line x1="965.2" y1="955.0" x2="987.8" y2="955.0" stroke="#000" stroke-width="5.6" stroke-linecap="butt"/>
<line x1="995.9" y1="955.0" x2="1018.5" y2="955.0" stroke="#000" stroke-width="5.6" stroke-linecap="butt"/>
<line x1="1026.5" y1="955.0" x2="1049.1" y2="955.0" stroke="#000" stroke-width="5.6" stroke-linecap="butt"/>
<line x1="1057.2" y1="955.0" x2="1079.8" y2="955.0" stroke="#000" stroke-width="5.6" stroke-linecap="butt"/>
<line x1="1087.8" y1="955.0" x2="1110.4" y2="955.0" stroke="#000" stroke-width="5.6" stroke-linecap="butt"/>
<line x1="1118.5" y1="955.0" x2="1141.1" y2="955.0" stroke="#000" stroke-width="5.6" stroke-linecap="butt"/>
<line x1="1149.2" y1="955.0" x2="1171.8" y2="955.0" stroke="#000" stroke-width="5.6" stroke-linecap="butt"/>
<line x1="1179.8" y1="955.0" x2="1202.4" y2="955.0" stroke="#000" stroke-width="5.6" stroke-linecap="butt"/>
<line x1="1210.5" y1="955.0" x2="1233.1" y2="955.0" stroke="#000" stroke-width="5.6" stroke-linecap="butt"/>
<line x1="1241.1" y1="955.0" x2="1263.7" y2="955.0" stroke="#000" stroke-width="5.6" stroke-linecap="butt"/>
<line x1="1271.8" y1="955.0" x2="1294.4" y2="955.0" stroke="#000" stroke-width="5.6" stroke-linecap="butt"/>
<line x1="1302.5" y1="955.0" x2="1325.1" y2="955.0" stroke="#000" stroke-width="5.6" stroke-linecap="butt"/>
<line x1="1333.1" y1="955.0" x2="1355.7" y2="955.0" stroke="#000" stroke-width="5.6" stroke-linecap="butt"/>
<line x1="1363.8" y1="955.0" x2="1386.4" y2="955.0" stroke="#000" stroke-width="5.6" stroke-linecap="butt"/>
<path d="M32,791.4 L21,791.4 Q14,796 10,805" fill="none" stroke="#000" stroke-width="5.6" stroke-linejoin="miter"/>
<path d="M7,810 Q4,818 3,828" fill="none" stroke="#000" stroke-width="5.6" stroke-linejoin="miter"/>
<path d="M3,833 Q3,843 4,853" fill="none" stroke="#000" stroke-width="5.6" stroke-linejoin="miter"/>
<path d="M7,858 Q14,872 23,885" fill="none" stroke="#000" stroke-width="5.6" stroke-linejoin="miter"/>
<path d="M27,890 Q31,897 31,906" fill="none" stroke="#000" stroke-width="5.6" stroke-linejoin="miter"/>
<path d="M31,913 L30,933" fill="none" stroke="#000" stroke-width="5.6" stroke-linejoin="miter"/>
<path d="M28,938 L20,949 L20,955 L37,955" fill="none" stroke="#000" stroke-width="5.6" stroke-linejoin="miter"/>
<path d="M10.5,242.5 Q6,239.5 2.5,244 Q0,249 4,253 Q9,257 8,262 Q6,267 0.5,265.5" fill="none" stroke="#000" stroke-width="3"/>
<rect x="171.7" y="0.0" width="1.8" height="1248.0" fill="#fff"/>
<rect x="522.9" y="0.0" width="1.2" height="1248.0" fill="#fff"/>
<rect x="803.7" y="0.0" width="1.6" height="1248.0" fill="#fff"/>
<rect x="1629.5" y="0.0" width="2.0" height="1248.0" fill="#fff"/>
</svg></body></html>
